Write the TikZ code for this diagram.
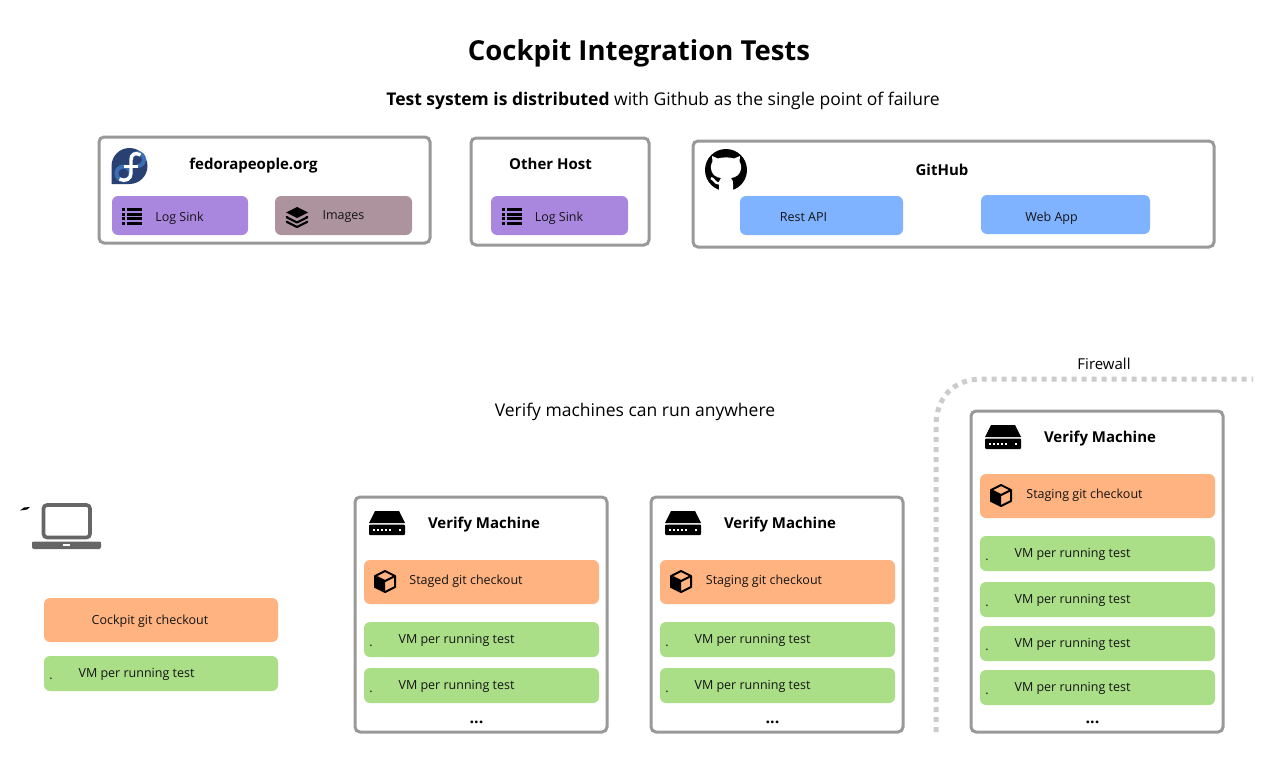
\documentclass[tikz,border=0pt]{standalone}
\usepackage{fontspec}
\setmainfont{Open Sans}
\begin{document}
\begin{tikzpicture}[x=1pt,y=-1pt,
  framebox/.style={draw=boxgray,line width=3pt,fill=white,rounded corners=5pt,inner sep=0pt,outer sep=0pt},
  cardbox/.style={rounded corners=6pt,inner sep=0pt,outer sep=0pt},
  purplecard/.style={cardbox,fill=cpurple},
  mauvecard/.style={cardbox,fill=cmauve},
  bluecard/.style={cardbox,fill=cblue},
  orangecard/.style={cardbox,fill=corange},
  greencard/.style={cardbox,fill=cgreen},
  lab/.style={font=\fontsize{12.5}{15}\selectfont,text=black!92,inner sep=0pt},
  headlab/.style={font=\fontsize{15}{18}\bfseries\selectfont,text=black,inner sep=0pt},
  dotlab/.style={font=\fontsize{16}{18}\bfseries\selectfont,inner sep=0pt,anchor=base}]
\definecolor{boxgray}{HTML}{999999}
\definecolor{cpurple}{HTML}{AA87DE}
\definecolor{cmauve}{HTML}{AC939D}
\definecolor{cblue}{HTML}{80B3FF}
\definecolor{corange}{HTML}{FFB380}
\definecolor{cgreen}{HTML}{AADE87}
\definecolor{fedblue}{HTML}{294172}
\definecolor{fedlight}{HTML}{3C6EB4}
\definecolor{lapgray}{HTML}{666666}
\useasboundingbox (0,0) rectangle (1280,768);
\fill[white] (0,0) rectangle (1280,768);
% box macro
\newcommand{\bx}[6]{\node[#6,minimum width={(#4-#2)*1pt},minimum height={(#5-#3)*1pt},anchor=north west] (#1) at (#2,#3) {};}
% icons
\newcommand{\serverico}[2]{\begin{scope}[shift={(#1,#2)}]
  \fill[black] (6,0) -- (30,0) -- (36,12) -- (0,12) -- cycle;
  \fill[black,rounded corners=1pt] (0,13.5) rectangle (36,24);
  \foreach \u in {3.5,7.5,11.5,15.5,19.5}{\fill[white] (\u,17.5) rectangle +(2.2,2.4);}
  \fill[white] (30,17.5) rectangle +(2.4,2.4);
\end{scope}}
\newcommand{\cubeico}[2]{\begin{scope}[shift={(#1,#2)}]
  \draw[black,line width=2pt,line join=round] (11,1) -- (21,6) -- (21,17) -- (11,22) -- (1,17) -- (1,6) -- cycle;
  \fill[black] (1,6) -- (11,11) -- (11,22) -- (1,17) -- cycle;
  \draw[black,line width=2pt,line join=round] (1,6) -- (11,11) -- (21,6);
\end{scope}}
\newcommand{\listico}[2]{\begin{scope}[shift={(#1,#2)}]
  \foreach \v in {0,4.6,9.2,13.8}{\fill[black] (0,\v) rectangle +(3.4,3);\fill[black] (5,\v) rectangle +(15,3);}
\end{scope}}
% title
\node[font=\fontsize{27.5}{32}\bfseries\selectfont,inner sep=0pt] (title) at (639,53) {Cockpit Integration Tests};
\node[font=\fontsize{17.5}{20}\selectfont,inner sep=0pt] (sub) at (663,101) {\textbf{Test system is distributed} with Github as the single point of failure};
% top boxes
\bx{fed}{99}{137}{430}{243}{framebox}
\bx{oth}{471}{138}{649}{245}{framebox}
\bx{gh}{693}{141}{1214}{247}{framebox}
\bx{ls1}{112}{196}{248}{235}{purplecard}
\bx{img}{275}{196}{412}{235}{mauvecard}
\bx{ls2}{491}{196}{628}{235}{purplecard}
\bx{api}{740}{196}{903}{235}{bluecard}
\bx{web}{981}{195}{1150}{234}{bluecard}
\node[headlab] (fedl) at (253.5,165.5) {fedorapeople.org};
\node[headlab] (othl) at (550.5,164) {Other Host};
\node[headlab] (ghl) at (942,170) {GitHub};
\node[lab] (ls1l) at (179.5,218) {Log Sink};
\node[lab] (imgl) at (343.5,217) {Images};
\node[lab] (ls2l) at (559,218) {Log Sink};
\node[lab] (apil) at (803.5,217) {Rest API};
\node[lab] (webl) at (1051.5,218) {Web App};
\listico{122}{208}
\listico{502}{208}
% layers icon
\begin{scope}[shift={(297,217)}]
  \fill[black] (0,-10) -- (11,-4.5) -- (0,1) -- (-11,-4.5) -- cycle;
  \draw[black,line width=2.2pt,line join=round] (-10,-1) -- (-10,0.5) -- (0,5.5) -- (10,0.5) -- (10,-1);
  \draw[black,line width=2.2pt,line join=round] (-10,3.8) -- (-10,5) -- (0,10) -- (10,5) -- (10,3.8);
\end{scope}
% fedora logo
\begin{scope}[shift={(129.5,166)}]
  \fill[fedblue] (0,-18) arc[start angle=-90,end angle=90,radius=18] -- (-18,18) -- (-18,0) arc[start angle=180,end angle=270,radius=18] -- cycle;
  \draw[fedlight,line width=4pt] (-6,7.5) circle[radius=7];
  \draw[fedlight,line width=4pt] (1.5,-6.5) arc[start angle=180,end angle=450,radius=6.5];
  \draw[white,line width=3.4pt] (11,-11) .. controls (6,-14) and (1.5,-12) .. (1.5,-6) -- (1.5,7) .. controls (1.5,13) and (-4,16) .. (-10,13);
  \draw[white,line width=3pt] (-6,0.5) -- (8,0.5);
\end{scope}
% github logo
\begin{scope}[shift={(726,170)}]
  \fill[black] (0,0) circle[radius=21];
  \fill[white] (-14,-14) -- (-13.5,-8.5) .. controls (-17,-3) and (-15,7) .. (-5,8) .. controls (-7,10) and (-7,12) .. (-7,14) -- (-7,22) -- (7,22) -- (7,14) .. controls (7,12) and (7,10) .. (5,8) .. controls (15,7) and (17,-3) .. (13.5,-8.5) -- (14,-14) -- (8,-11.5) .. controls (3,-13) and (-3,-13) .. (-8,-11.5) -- cycle;
  \draw[white,line width=2.4pt] (-15,8) .. controls (-12,9) and (-11,13.5) .. (-7,13.5);
\end{scope}
% middle
\node[font=\fontsize{17.5}{20}\selectfont,inner sep=0pt] (mid) at (635,412) {Verify machines can run anywhere};
\node[font=\fontsize{15}{17}\selectfont,inner sep=0pt] (fwl) at (1104,364) {Firewall};
\coordinate (fwa) at (936,732);
\coordinate (fwb) at (1253,379);
\draw[draw=black!20,line width=5pt,dash pattern=on 5pt off 5pt] (fwa) -- (936,426) .. controls (936,398) and (953,379) .. (982,379) -- (fwb);
% laptop
\fill[black] (20,510.5) -- (24,507.5) -- (30,507) -- (27,509.5) -- cycle;
\draw[lapgray,line width=3.6pt,rounded corners=3.5pt] (43.5,505) rectangle (90,537.5);
\fill[lapgray,rounded corners=2pt] (32,541.5) rectangle (101,549);
\fill[lapgray] (32,541.5) rectangle (101,545);
\fill[white] (63,544) rectangle (70,545.5);
% left column
\bx{ck}{44}{598}{278}{642}{orangecard}
\bx{g0}{44}{656}{278}{691}{greencard}
\node[lab] (ckl) at (150,621) {Cockpit git checkout};
\node[lab] (g0l) at (136.5,674) {VM per running test};
\node[lab,anchor=base] (g0d) at (51,679) {.};
% verify boxes
\bx{v1}{355}{497}{607}{732}{framebox}
\bx{v2}{651}{497}{903}{732}{framebox}
\bx{v3}{971}{411}{1223}{732}{framebox}
% v1
\serverico{369}{511}
\node[headlab] (v1l) at (484,524.5) {Verify Machine};
\bx{o1}{364}{560}{599}{604}{orangecard}
\cubeico{374}{570}
\node[lab] (o1l) at (466,581) {Staged git checkout};
\bx{g11}{364}{622}{599}{657}{greencard}
\bx{g12}{364}{668}{599}{703}{greencard}
\node[lab] (g11l) at (456.5,640) {VM per running test};
\node[lab] (g12l) at (456.5,686) {VM per running test};
\node[lab,anchor=base] (g11d) at (371,646.5) {.};
\node[lab,anchor=base] (g12d) at (371,692.5) {.};
\node[dotlab] (d1) at (476.5,723) {...};
% v2
\serverico{665}{511}
\node[headlab] (v2l) at (780,524.5) {Verify Machine};
\bx{o2}{660}{560}{895}{604}{orangecard}
\cubeico{670}{570}
\node[lab] (o2l) at (764,581) {Staging git checkout};
\bx{g21}{660}{622}{895}{657}{greencard}
\bx{g22}{660}{668}{895}{703}{greencard}
\node[lab] (g21l) at (752.5,640) {VM per running test};
\node[lab] (g22l) at (752.5,686) {VM per running test};
\node[lab,anchor=base] (g21d) at (667,646.5) {.};
\node[lab,anchor=base] (g22d) at (667,692.5) {.};
\node[dotlab] (d2) at (772.5,723) {...};
% v3
\serverico{985}{425}
\node[headlab] (v3l) at (1100,438.5) {Verify Machine};
\bx{o3}{980}{474}{1215}{518}{orangecard}
\cubeico{990}{484}
\node[lab] (o3l) at (1084.5,495) {Staging git checkout};
\bx{g31}{980}{536}{1215}{571}{greencard}
\bx{g32}{980}{582}{1215}{617}{greencard}
\bx{g33}{980}{626}{1215}{661}{greencard}
\bx{g34}{980}{670}{1215}{705}{greencard}
\node[lab] (g31l) at (1072.5,554) {VM per running test};
\node[lab] (g32l) at (1072.5,600) {VM per running test};
\node[lab] (g33l) at (1072.5,644) {VM per running test};
\node[lab] (g34l) at (1072.5,688) {VM per running test};
\node[lab,anchor=base] (g31d) at (987,560.5) {.};
\node[lab,anchor=base] (g32d) at (987,606.5) {.};
\node[lab,anchor=base] (g33d) at (987,650.5) {.};
\node[lab,anchor=base] (g34d) at (987,694.5) {.};
\node[dotlab] (d3) at (1092.5,723) {...};
\end{tikzpicture}
\end{document}
